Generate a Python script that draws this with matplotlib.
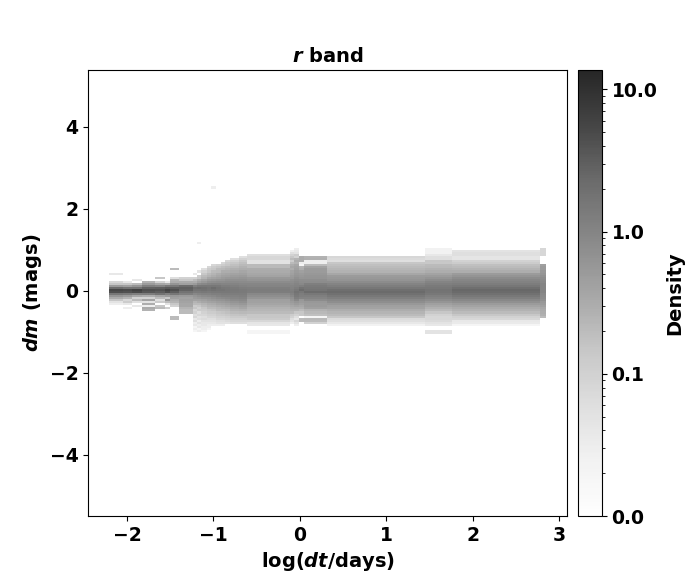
import numpy as np
import matplotlib
matplotlib.use('Agg')
import matplotlib.pyplot as plt
from matplotlib.colors import LogNorm
from matplotlib.ticker import FormatStrFormatter, NullFormatter

plt.rcParams['font.family'] = 'DejaVu Sans'
plt.rcParams['font.weight'] = 'bold'
plt.rcParams['mathtext.fontset'] = 'custom'
plt.rcParams['mathtext.it'] = 'DejaVu Sans:italic:bold'
plt.rcParams['mathtext.rm'] = 'DejaVu Sans:bold'
plt.rcParams['mathtext.bf'] = 'DejaVu Sans:bold'

# ---- data ----
logdt_edges = [-2.21, -2.045, -1.94, -1.83, -1.67, -1.56, -1.505, -1.40, -1.24,
               -1.195, -1.14, -1.08, -1.03, -0.97, -0.91, -0.87, -0.81, -0.71,
               -0.61, -0.12, -0.07, -0.01, 0.05, 0.31, 1.45, 1.76, 2.78, 2.84]

dm_top = 1.10        # upper edge of the dm grid (mags)
dm_step = 0.05       # dm bin width (mags)
n_dm = 44            # number of dm bins

# index (counted from the top dm bin) of the first listed value in each column
first_bin = [13, 17, 16, 17, 15, 17, 11, 15, 13, 12, 11, 10, 9, 9, 8, 7, 6, 5,
             4, 2, 1, 5, 5, 5, 1, 2, 1]

# densities per log(dt) column, listed from high dm to low dm
density_cols = [
    [0.04, 0, 0, 0, 0.08, 0.15, 0.5, 2.2, 5.5, 4.5, 1.6, 0.6, 0.33, 0.15, 0.05, 0.03],
    [0.04, 0.15, 0.45, 1.8, 5, 4.2, 1.4, 0.5, 0.25, 0.08, 0.12, 0.04, 0, 0.03],
    [0.04, 0, 0.2, 0.6, 1.8, 6.5, 5, 1.2, 0.35, 0.1, 0.2, 0.06, 0, 0.04],
    [0.26, 0.5, 1.2, 2.8, 4.5, 3.8, 1.3, 0.3, 0.1, 0.4, 0.05, 0.3, 0.03, 0.33, 0.26],
    [0.15, 0, 0.1, 0.35, 1.0, 3.0, 4.2, 3.2, 1.8, 0.4, 0.2, 0.06, 0.12, 0, 0.15, 0.2],
    [0.04, 0.3, 1.5, 3.5, 6, 4.5, 1.2, 0.5, 0.15, 0.6, 0.2, 0.05, 0, 0.11],
    [0.2, 0, 0, 0, 0.06, 0.25, 0.3, 0.6, 1.5, 3.2, 4.5, 3.2, 1.6, 0.55, 0.45, 0.3,
     0.25, 0.15, 0.1, 0, 0, 0, 0, 0.2, 0.2],
    [0.1, 0.15, 0.33, 0.45, 2.2, 3.0, 2.8, 1.8, 1.2, 0.5, 0.4, 0.45, 0.4, 0.35,
     0.35, 0.25, 0.2, 0.2],
    [0.04, 0, 0.1, 0.2, 0.3, 0.5, 1.2, 2.0, 1.8, 1.4, 0.9, 0.6, 0.5, 0.4, 0.25,
     0.2, 0.12, 0.15, 0.08, 0.1, 0.06, 0.08, 0.04, 0.06, 0.03, 0.04, 0.02, 0.03, 0.02],
    [0.05, 0, 0.12, 0.15, 0.3, 0.45, 0.8, 1.5, 2.2, 1.8, 1.4, 1.0, 0.7, 0.55, 0.4,
     0.3, 0.2, 0.15, 0.1, 0.12, 0.06, 0.08, 0.05, 0.06, 0.03, 0.05, 0.03, 0.04,
     0.02, 0.03],
    [0.06, 0.1, 0.15, 0.2, 0.25, 0.4, 0.55, 0.9, 1.6, 2.0, 1.9, 1.5, 1.1, 0.8, 0.6,
     0.45, 0.35, 0.25, 0.2, 0.15, 0.12, 0.1, 0.08, 0.06, 0.07, 0.05, 0.04, 0.04,
     0.03, 0.03, 0.02],
    [0.08, 0.12, 0.15, 0.2, 0.25, 0.35, 0.5, 0.7, 1.0, 1.5, 1.8, 1.7, 1.4, 1.1,
     0.85, 0.65, 0.5, 0.4, 0.3, 0.25, 0.2, 0.15, 0.12, 0.1, 0.08, 0.06, 0.05, 0.04,
     0.03, 0.03, 0.02],
    [0.08, 0.12, 0.15, 0.2, 0.25, 0.3, 0.4, 0.55, 0.75, 1.1, 1.6, 2.2, 1.9, 1.5,
     1.2, 0.9, 0.7, 0.55, 0.42, 0.33, 0.26, 0.2, 0.16, 0.12, 0.1, 0.08, 0.06, 0.05,
     0.04, 0.03],
    [0.1, 0.15, 0.2, 0.22, 0.3, 0.35, 0.45, 0.6, 0.8, 1.1, 1.5, 1.8, 1.7, 1.5, 1.2,
     1.0, 0.8, 0.6, 0.48, 0.38, 0.3, 0.24, 0.2, 0.15, 0.12, 0.1, 0.08, 0.06, 0.05,
     0.03],
    [0.08, 0.12, 0.18, 0.22, 0.3, 0.35, 0.42, 0.5, 0.65, 0.8, 1.0, 1.3, 1.6, 1.7,
     1.5, 1.3, 1.1, 0.85, 0.65, 0.5, 0.4, 0.32, 0.26, 0.2, 0.16, 0.13, 0.1, 0.08,
     0.06, 0.05, 0.03],
    [0.08, 0.12, 0.15, 0.2, 0.25, 0.3, 0.38, 0.45, 0.55, 0.7, 0.85, 1.0, 1.3, 1.5,
     1.6, 1.5, 1.3, 1.1, 0.9, 0.7, 0.55, 0.45, 0.35, 0.28, 0.22, 0.18, 0.14, 0.11,
     0.09, 0.07, 0.05],
    [0.06, 0.1, 0.14, 0.18, 0.22, 0.28, 0.33, 0.4, 0.48, 0.58, 0.7, 0.85, 1.0, 1.2,
     1.4, 1.5, 1.45, 1.3, 1.1, 0.95, 0.8, 0.62, 0.5, 0.4, 0.32, 0.26, 0.2, 0.16,
     0.13, 0.1, 0.08, 0.06],
    [0.06, 0.1, 0.14, 0.18, 0.22, 0.26, 0.3, 0.36, 0.42, 0.5, 0.6, 0.7, 0.82, 0.95,
     1.1, 1.3, 1.4, 1.4, 1.3, 1.15, 1.0, 0.85, 0.7, 0.55, 0.45, 0.36, 0.28, 0.22,
     0.17, 0.13, 0.1, 0.08, 0.06],
    [0.06, 0.08, 0.08, 0.05, 0.05, 0.2, 0.2, 0.3, 0.33, 0.35, 0.4, 0.55, 0.65, 0.8,
     0.95, 1.05, 1.25, 1.35, 1.3, 0.9, 0.75, 0.6, 0.45, 0.42, 0.38, 0.33, 0.26,
     0.24, 0.2, 0.15, 0.15, 0.13, 0.08, 0.045, 0.04, 0, 0, 0.02, 0.02],
    [0.03, 0.06, 0.1, 0.15, 0.2, 0.12, 0.2, 0.3, 0.35, 0.3, 0.4, 0.45, 0.5, 0.55,
     0.7, 0.8, 0.9, 1.0, 1.1, 1.2, 1.3, 1.1, 0.9, 0.7, 0.6, 0.5, 0.45, 0.35, 0.3,
     0.25, 0.2, 0.12, 0.1, 0.06, 0.05, 0.03],
    [0.03, 0.04, 0.05, 0.12, 0.1, 0.25, 0.3, 0.25, 0.35, 0.4, 0.45, 0.5, 0.55, 0.6,
     0.7, 0.8, 0.9, 1.0, 1.1, 1.3, 1.5, 1.8, 1.6, 1.4, 1.2, 0.9, 0.6, 0.5, 0.4,
     0.3, 0.25, 0.15, 0.1, 0.06, 0.04, 0.08, 0.05, 0.03],
    [0.33, 0.33, 0.3, 0.03, 0.02, 0.26, 0.3, 0.45, 0.5, 0.55, 0.6, 0.75, 0.8, 0.9,
     1.2, 1.8, 2.2, 1.6, 1.3, 1.2, 1.0, 0.55, 0.5, 0.45, 0.35, 0.3, 0.2, 0.15,
     0.14, 0, 0.2, 0.2],
    [0.26, 0.28, 0.03, 0.03, 0.2, 0.4, 0.5, 0.5, 0.55, 0.6, 0.65, 0.75, 0.8, 1.2,
     1.4, 1.6, 1.7, 2.2, 1.5, 1.2, 1.0, 0.8, 0.55, 0.5, 0.5, 0.45, 0.26, 0.22,
     0.18, 0.02, 0.22, 0.2, 0.1],
    [0.08, 0.07, 0.06, 0.15, 0.18, 0.2, 0.24, 0.26, 0.35, 0.5, 0.55, 0.65, 0.8, 1.0,
     1.25, 1.6, 2.0, 2.3, 1.9, 1.5, 1.2, 0.9, 0.75, 0.55, 0.45, 0.4, 0.3, 0.25,
     0.2, 0.15, 0.07, 0.06, 0.04, 0.025],
    [0.025, 0.025, 0.025, 0.04, 0.06, 0.06, 0.15, 0.14, 0.2, 0.22, 0.26, 0.3, 0.4,
     0.5, 0.65, 0.8, 1.0, 1.2, 1.4, 1.6, 1.8, 1.7, 1.5, 1.2, 1.0, 0.8, 0.6, 0.45,
     0.35, 0.28, 0.22, 0.15, 0.1, 0.08, 0.08, 0.07, 0.05, 0.04, 0, 0, 0.05, 0.05],
    [0.05, 0.06, 0.06, 0.045, 0.045, 0.1, 0.12, 0.18, 0.2, 0.25, 0.3, 0.5, 0.65,
     0.8, 0.95, 1.1, 1.3, 1.6, 2.0, 2.4, 2.3, 1.9, 1.5, 1.2, 0.9, 0.7, 0.5, 0.4,
     0.32, 0.26, 0.2, 0.15, 0.1, 0.08, 0.04, 0.035, 0.02],
    [0.08, 0.08, 0.08, 0.08, 0, 0, 0, 0, 0.45, 0.5, 0.5, 0.55, 0.6, 0.7, 0.8, 0.85,
     0.9, 1.0, 1.0, 1.0, 1.0, 1.0, 0.9, 0.85, 0.8, 0.7, 0.55, 0.5, 0.45, 0.35,
     0.33, 0.3, 0.28, 0.2],
]

# isolated cells outside the dm grid: column index, dm centre, density
outlier_col = [12, 9]
outlier_dm = [2.52, 1.17]
outlier_density = [0.03, 0.03]

x_ticks = [-2, -1, 0, 1, 2, 3]
y_ticks = [-4, -2, 0, 2, 4]
cbar_ticks = [0.01, 0.1, 1.0, 10.0]
x_range = (-2.45, 3.09)
y_range = (-5.49, 5.39)
vmin, vmax = 0.01, 13.7

# ---- build grid ----
dm_edges = np.round(dm_top - dm_step * np.arange(n_dm + 1), 4)[::-1]
Z = np.zeros((n_dm, len(density_cols)))
for j, (s, vals) in enumerate(zip(first_bin, density_cols)):
    for k, v in enumerate(vals):
        r = s + k
        Z[n_dm - 1 - r, j] = v
Zm = np.ma.masked_less_equal(Z, 0)

fig = plt.figure(figsize=(7, 5.8), dpi=100)
ax = fig.add_axes([0.1257, 0.1103, 0.6847, 0.7690])
cax = fig.add_axes([0.8262, 0.1103, 0.0334, 0.7690])

norm = LogNorm(vmin=vmin, vmax=vmax)
mesh = ax.pcolormesh(logdt_edges, dm_edges, Zm, cmap='Greys', norm=norm,
                     alpha=0.85, shading='flat', edgecolors='none',
                     antialiased=False)
half = 0.035
for c, y, v in zip(outlier_col, outlier_dm, outlier_density):
    ax.pcolormesh([logdt_edges[c], logdt_edges[c + 1]], [y - half, y + half],
                  [[v]], cmap='Greys', norm=norm, alpha=0.85,
                  edgecolors='none', antialiased=False)

ax.set_xlim(*x_range)
ax.set_ylim(*y_range)
ax.set_xticks(x_ticks)
ax.set_yticks(y_ticks)
ax.tick_params(labelsize=13.5)
for lab in ax.get_xticklabels() + ax.get_yticklabels():
    lab.set_fontweight('bold')

ax.set_xlabel(r'log($dt$/days)', fontsize=14, fontweight='bold')
ax.set_ylabel(r'$dm$ (mags)', fontsize=14, fontweight='bold')
ax.set_title(r'$r$ band', fontsize=14, fontweight='bold')

cb = fig.colorbar(mesh, cax=cax)
cb.set_ticks(cbar_ticks)
cb.ax.yaxis.set_major_formatter(FormatStrFormatter('%.1f'))
cb.ax.yaxis.set_minor_formatter(NullFormatter())
cb.ax.tick_params(labelsize=13.5)
for lab in cb.ax.get_yticklabels():
    lab.set_fontweight('bold')
cb.set_label('Density', fontsize=14, fontweight='bold', labelpad=6)

fig.savefig('out.png', dpi=100)
